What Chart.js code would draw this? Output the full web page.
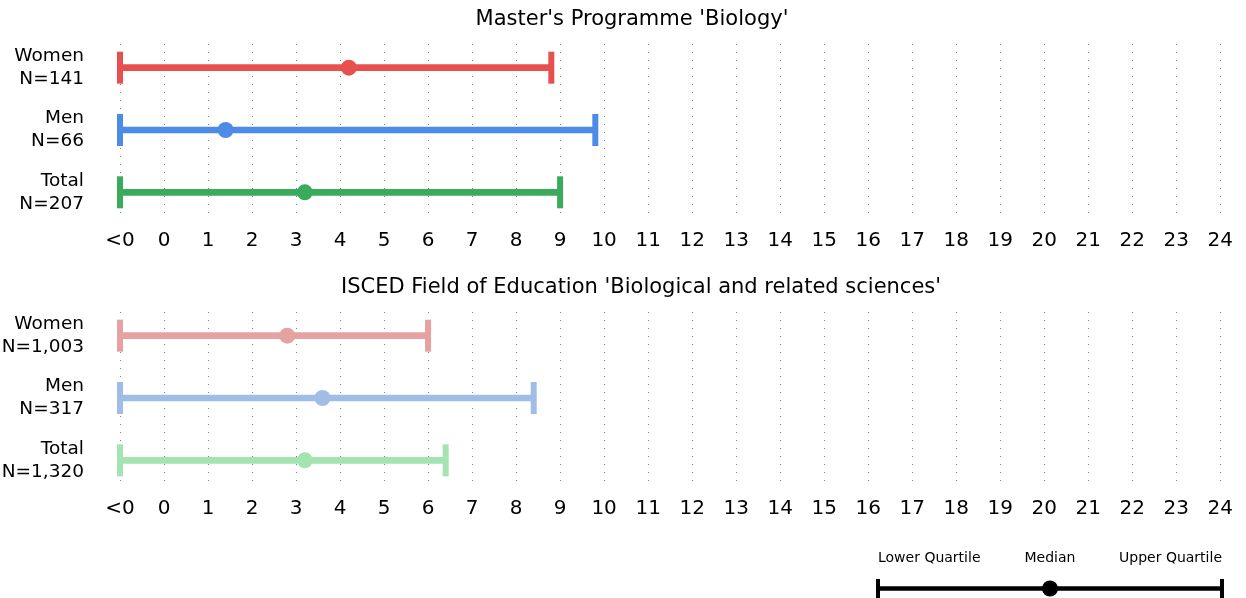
<!DOCTYPE html>
<html>
<head>
<meta charset="utf-8">
<title>Quartile ranges</title>
<script src="https://cdn.jsdelivr.net/npm/chart.js@4.4.1/dist/chart.umd.min.js"></script>
<style>
  html, body { margin: 0; padding: 0; background: #fff; overflow: hidden; }
  #wrap { position: relative; width: 1246px; height: 598px; overflow: hidden; }
  #wrap canvas { position: absolute; left: 0; }
</style>
</head>
<body>
<div id="wrap">
  <canvas id="programmeChart" width="1246" height="262" style="top:0"></canvas>
  <canvas id="iscedChart" width="1246" height="262" style="top:268px"></canvas>
  <canvas id="keyChart" width="1246" height="68" style="top:535px"></canvas>
</div>
<script>
/* x axis: "<0" sits at value -1, then 0..24 */
const tickLabels = ['<0', '0', '1', '2', '3', '4', '5', '6', '7', '8', '9', '10', '11', '12',
  '13', '14', '15', '16', '17', '18', '19', '20', '21', '22', '23', '24'];

const groups = ['Women', 'Men', 'Total'];

// Master's Programme 'Biology'
const programmeN = ['N=141', 'N=66', 'N=207'];
const programmeLower = [-1, -1, -1];
const programmeMedian = [4.2, 1.4, 3.2];
const programmeUpper = [8.8, 9.8, 9.0];

// ISCED field 'Biological and related sciences'
const iscedN = ['N=1,003', 'N=317', 'N=1,320'];
const iscedLower = [-1, -1, -1];
const iscedMedian = [2.8, 3.6, 3.2];
const iscedUpper = [6.0, 8.4, 6.4];

// key at the bottom right
const keyPos = [0, 0.5, 1];
const keyLabels = ['Lower Quartile', 'Median', 'Upper Quartile'];

const STRONG = ['#E8504F', '#4C8BE8', '#3AAA5B'];
const PALE = ['#E6A1A1', '#A0BDE6', '#A3E4B2'];

Chart.defaults.font.family = '"DejaVu Sans", sans-serif';
Chart.defaults.color = '#000';
Chart.defaults.animation = false;

// title is centred over the whole figure, not over the y labels gap -> small nudge
const titleNudge = {
  id: 'titleNudge',
  afterLayout(chart, args, opts) {
    const t = chart.titleBlock;
    if (t && opts.dx) {
      t.left += opts.dx;
      t.right += opts.dx;
    }
  }
};

class QuartileCharts {

  /* ------------------------------------------------
     one panel: range bar + caps + median dot per row
  ------------------------------------------------ */
  renderPanel(id, title, nLabels, lower, median, upper, colors, titleDx) {
    const ctx = document.getElementById(id);
    const rows = (arr) => arr.map((v, i) => ({ x: v, y: i }));

    return new Chart(ctx, {
      type: 'bar',
      plugins: [titleNudge],
      data: {
        datasets: [
          {
            type: 'scatter',
            data: rows(median),
            pointRadius: 8,
            pointHoverRadius: 8,
            pointBackgroundColor: colors,
            pointBorderWidth: 0,
            clip: false
          },
          {
            // end caps
            type: 'scatter',
            data: rows(lower).concat(rows(upper)),
            pointStyle: 'line',
            pointRotation: 90,
            pointRadius: 16,
            pointHoverRadius: 16,
            pointBorderWidth: 6,
            pointBorderColor: colors.concat(colors),
            clip: false
          },
          {
            type: 'bar',
            indexAxis: 'y',
            data: lower.map((v, i) => ({ x: [v, upper[i]], y: i })),
            backgroundColor: colors,
            barThickness: 6,
            clip: false
          }
        ]
      },
      options: {
        indexAxis: 'y',
        responsive: false,
        animation: false,
        events: [],
        layout: { autoPadding: false, padding: { left: 0, right: 24, top: 0, bottom: 9 } },
        plugins: {
          legend: { display: false },
          tooltip: { enabled: false },
          titleNudge: { dx: titleDx },
          title: {
            display: true,
            text: title,
            color: '#000',
            font: { size: 21, weight: 'normal' },
            padding: { top: 7, bottom: 11.8 }
          }
        },
        scales: {
          x: {
            type: 'linear',
            min: -1,
            max: 24,
            offset: false,
            afterBuildTicks: (s) => { s.ticks = tickLabels.map((_, i) => ({ value: i - 1 })); },
            afterFit: (s) => { s.height = 37; },
            ticks: {
              autoSkip: false,
              maxRotation: 0,
              padding: 13,
              color: '#000',
              font: { size: 20 },
              callback: (v, i) => tickLabels[i]
            },
            grid: { offset: false, drawTicks: false, color: '#808080', lineWidth: 1 },
            border: { display: false, dash: [1, 7] }
          },
          y: {
            type: 'linear',
            min: -0.38,
            max: 2.38,
            reverse: true,
            offset: false,
            afterBuildTicks: (s) => { s.ticks = groups.map((_, i) => ({ value: i })); },
            afterFit: (s) => {
              s.width = 120;
              s.paddingTop = 0;
              s.paddingBottom = 0;
            },
            ticks: {
              autoSkip: false,
              padding: 36,
              color: '#000',
              font: { size: 18.5, lineHeight: 1.25 },
              callback: (v, i) => [groups[i], nLabels[i]]
            },
            grid: { display: false, drawTicks: false, offset: false },
            border: { display: false }
          }
        }
      }
    });
  }

  /* ------------------------------------------------
     key: lower quartile / median / upper quartile
  ------------------------------------------------ */
  renderKey() {
    const ctx = document.getElementById('keyChart');
    const at = (v) => ({ x: v, y: 0 });

    return new Chart(ctx, {
      type: 'bar',
      data: {
        datasets: [
          {
            type: 'scatter',
            data: [at(keyPos[1])],
            pointRadius: 8,
            pointHoverRadius: 8,
            pointBackgroundColor: '#000',
            pointBorderWidth: 0,
            clip: false
          },
          {
            type: 'scatter',
            data: [at(keyPos[0]), at(keyPos[2])],
            pointStyle: 'line',
            pointRotation: 90,
            pointRadius: 9.5,
            pointHoverRadius: 9.5,
            pointBorderWidth: 4,
            pointBorderColor: '#000',
            clip: false
          },
          {
            type: 'bar',
            indexAxis: 'y',
            data: [{ x: [keyPos[0], keyPos[2]], y: 0 }],
            backgroundColor: '#000',
            barThickness: 4,
            clip: false
          }
        ]
      },
      options: {
        indexAxis: 'y',
        responsive: false,
        animation: false,
        events: [],
        layout: { autoPadding: false, padding: { left: 878, right: 24, top: 0, bottom: 1 } },
        plugins: { legend: { display: false }, tooltip: { enabled: false } },
        scales: {
          x: {
            type: 'linear',
            position: 'top',
            min: 0,
            max: 1,
            offset: false,
            afterBuildTicks: (s) => { s.ticks = keyPos.map((v) => ({ value: v })); },
            afterFit: (s) => { s.height = 40; },
            ticks: {
              align: 'inner',
              autoSkip: false,
              maxRotation: 0,
              padding: 8,
              color: '#000',
              font: { size: 14 },
              callback: (v, i) => keyLabels[i]
            },
            grid: { display: false, drawTicks: false, offset: false },
            border: { display: false }
          },
          y: { type: 'linear', min: -1, max: 1, display: false, offset: false, grid: { offset: false } }
        }
      }
    });
  }
}

const charts = new QuartileCharts();
charts.renderPanel('programmeChart', "Master's Programme 'Biology'", programmeN,
  programmeLower, programmeMedian, programmeUpper, STRONG, 21);
charts.renderPanel('iscedChart', "ISCED Field of Education 'Biological and related sciences'", iscedN,
  iscedLower, iscedMedian, iscedUpper, PALE, 30);
charts.renderKey();
</script>
</body>
</html>
